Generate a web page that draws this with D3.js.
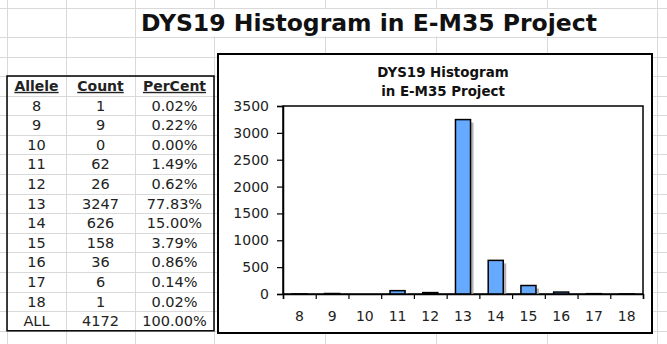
<!DOCTYPE html>
<html>
<head>
<meta charset="utf-8">
<script src="https://cdn.jsdelivr.net/npm/d3@7"></script>
<style>
  html, body { margin: 0; padding: 0; background: #fff; }
  svg { display: block; font-family: "DejaVu Sans", Verdana, sans-serif; }
</style>
</head>
<body>
<svg id="sheet" width="667" height="344"></svg>
<script>
// DYS19 allele counts in the E-M35 project
const alleles  = ["8", "9", "10", "11", "12", "13", "14", "15", "16", "17", "18"];
const counts   = [1, 9, 0, 62, 26, 3247, 626, 158, 36, 6, 1];
const percents = ["0.02%", "0.22%", "0.00%", "1.49%", "0.62%", "77.83%", "15.00%", "3.79%", "0.86%", "0.14%", "0.02%"];
const totalLabel = "ALL";
const totalCount = 4172;
const totalPercent = "100.00%";
const headers = ["Allele", "Count", "PerCent"];
const yTicks = [0, 500, 1000, 1500, 2000, 2500, 3000, 3500];

const svg = d3.select("#sheet");
const W = 667, H = 344;

svg.append("rect").attr("width", W).attr("height", H).attr("fill", "#fff");

// ---- worksheet grid ----
const colEdges = [7, 66, 135, 214, 325, 436, 547, 657];
const rowH = 19.6;
const rowEdges = [8, 37, 56.5];
for (let y = 76; y <= H; y += rowH) rowEdges.push(y);
const grid = svg.append("g").attr("stroke", "#d9d9d9").attr("stroke-width", 1).attr("shape-rendering", "crispEdges");
grid.selectAll("line.v").data(colEdges).join("line")
  .attr("class", "v").attr("x1", d => d + 0.5).attr("x2", d => d + 0.5).attr("y1", 0).attr("y2", H);
grid.selectAll("line.h").data(rowEdges).join("line")
  .attr("class", "h").attr("x1", 0).attr("x2", W).attr("y1", d => Math.round(d) + 0.5).attr("y2", d => Math.round(d) + 0.5);

// merged title cell hides the inner grid lines
svg.append("rect").attr("x", 136).attr("y", 9).attr("width", 520.5).attr("height", 27.5).attr("fill", "#fff");

svg.append("text")
  .attr("x", 369).attr("y", 31)
  .attr("text-anchor", "middle")
  .attr("font-weight", "bold").attr("font-size", 23.5)
  .attr("fill", "#111")
  .text("DYS19 Histogram in E-M35 Project");

// ---- frequency table ----
const tbl = { x0: 7, x1: 214, y0: 76 };
const colCenters = [36.5, 100.5, 174.5];
const rows = alleles.map((a, i) => [a, String(counts[i]), percents[i]]);
rows.push([totalLabel, String(totalCount), totalPercent]);

const tg = svg.append("g").attr("fill", "#222");
headers.forEach((h, j) => {
  tg.append("text")
    .attr("x", colCenters[j]).attr("y", tbl.y0 + rowH * 0.5)
    .attr("dy", "0.36em")
    .attr("text-anchor", "middle")
    .attr("font-weight", "bold").attr("font-size", 14)
    .attr("text-decoration", "underline")
    .text(h);
});
rows.forEach((r, i) => {
  r.forEach((v, j) => {
    tg.append("text")
      .attr("x", colCenters[j]).attr("y", tbl.y0 + rowH * (i + 1.5))
      .attr("dy", "0.36em")
      .attr("text-anchor", "middle")
      .attr("font-size", 14.5)
      .text(v);
  });
});
svg.append("rect")
  .attr("x", tbl.x0).attr("y", tbl.y0)
  .attr("width", tbl.x1 - tbl.x0).attr("height", rowH * (rows.length + 1))
  .attr("fill", "none").attr("stroke", "#000").attr("stroke-width", 1.5);

// ---- embedded chart ----
svg.append("rect")
  .attr("x", 218).attr("y", 54).attr("width", 434).attr("height", 279)
  .attr("fill", "#fff").attr("stroke", "#000").attr("stroke-width", 2);

const chartTitle = ["DYS19 Histogram", "in E-M35 Project"];
svg.append("g").selectAll("text").data(chartTitle).join("text")
  .attr("x", 443).attr("y", (d, i) => 77 + i * 19)
  .attr("text-anchor", "middle")
  .attr("font-weight", "bold").attr("font-size", 13.4)
  .attr("fill", "#111")
  .text(d => d);

const plot = { left: 283, right: 643, top: 106, bottom: 294 };

const y = d3.scaleLinear().domain([0, 3500]).range([plot.bottom, plot.top]);
const xCat = d3.scaleBand().domain(alleles).range([plot.left, plot.right]).padding(0);
const xBar = d3.scaleBand().domain(alleles).range([plot.left, plot.right])
  .paddingInner(0.54).paddingOuter(0.27);
const xEdge = d3.scaleLinear().domain([0, alleles.length]).range([plot.left, plot.right]);

svg.append("rect")
  .attr("x", plot.left).attr("y", plot.top)
  .attr("width", plot.right - plot.left).attr("height", plot.bottom - plot.top)
  .attr("fill", "#fff").attr("stroke", "#000").attr("stroke-width", 1.5);

// bar shadows, then bars
const bars = svg.append("g");
bars.selectAll("rect.shadow").data(counts).join("rect")
  .attr("class", "shadow")
  .attr("x", (d, i) => xBar(alleles[i]) + 3)
  .attr("y", d => Math.min(y(d) + 3, plot.bottom))
  .attr("width", xBar.bandwidth())
  .attr("height", d => Math.max(0, plot.bottom - (y(d) + 3)))
  .attr("fill", "#b4b4b8");
bars.selectAll("rect.bar").data(counts).join("rect")
  .attr("class", "bar")
  .attr("x", (d, i) => xBar(alleles[i]))
  .attr("y", d => y(d))
  .attr("width", xBar.bandwidth())
  .attr("height", d => plot.bottom - y(d))
  .attr("fill", "#66aaff")
  .attr("stroke", "#000").attr("stroke-width", 1.5);

// y axis
const yAxis = svg.append("g")
  .attr("transform", `translate(${plot.left},0)`)
  .call(d3.axisLeft(y).tickValues(yTicks).tickSize(6).tickPadding(8).tickFormat(d3.format("d")));
yAxis.select(".domain").attr("stroke", "#000").attr("stroke-width", 1.5);
yAxis.selectAll(".tick line").attr("stroke", "#000").attr("stroke-width", 1.2);
yAxis.selectAll(".tick text").attr("font-size", 14).attr("fill", "#222")
  .attr("font-family", "DejaVu Sans, Verdana, sans-serif");

// x axis: ticks on category boundaries, labels at category centres
const xTicks = svg.append("g")
  .attr("transform", `translate(0,${plot.bottom})`)
  .call(d3.axisBottom(xEdge).ticks(alleles.length).tickSize(5).tickFormat(""));
xTicks.select(".domain").attr("stroke", "#000").attr("stroke-width", 1.5);
xTicks.selectAll(".tick line").attr("stroke", "#000").attr("stroke-width", 1.2);

const xLabels = svg.append("g")
  .attr("transform", `translate(0,${plot.bottom})`)
  .call(d3.axisBottom(xCat).tickSize(0).tickPadding(17));
xLabels.select(".domain").remove();
xLabels.selectAll(".tick text").attr("font-size", 14).attr("fill", "#222")
  .attr("font-family", "DejaVu Sans, Verdana, sans-serif");
</script>
</body>
</html>
